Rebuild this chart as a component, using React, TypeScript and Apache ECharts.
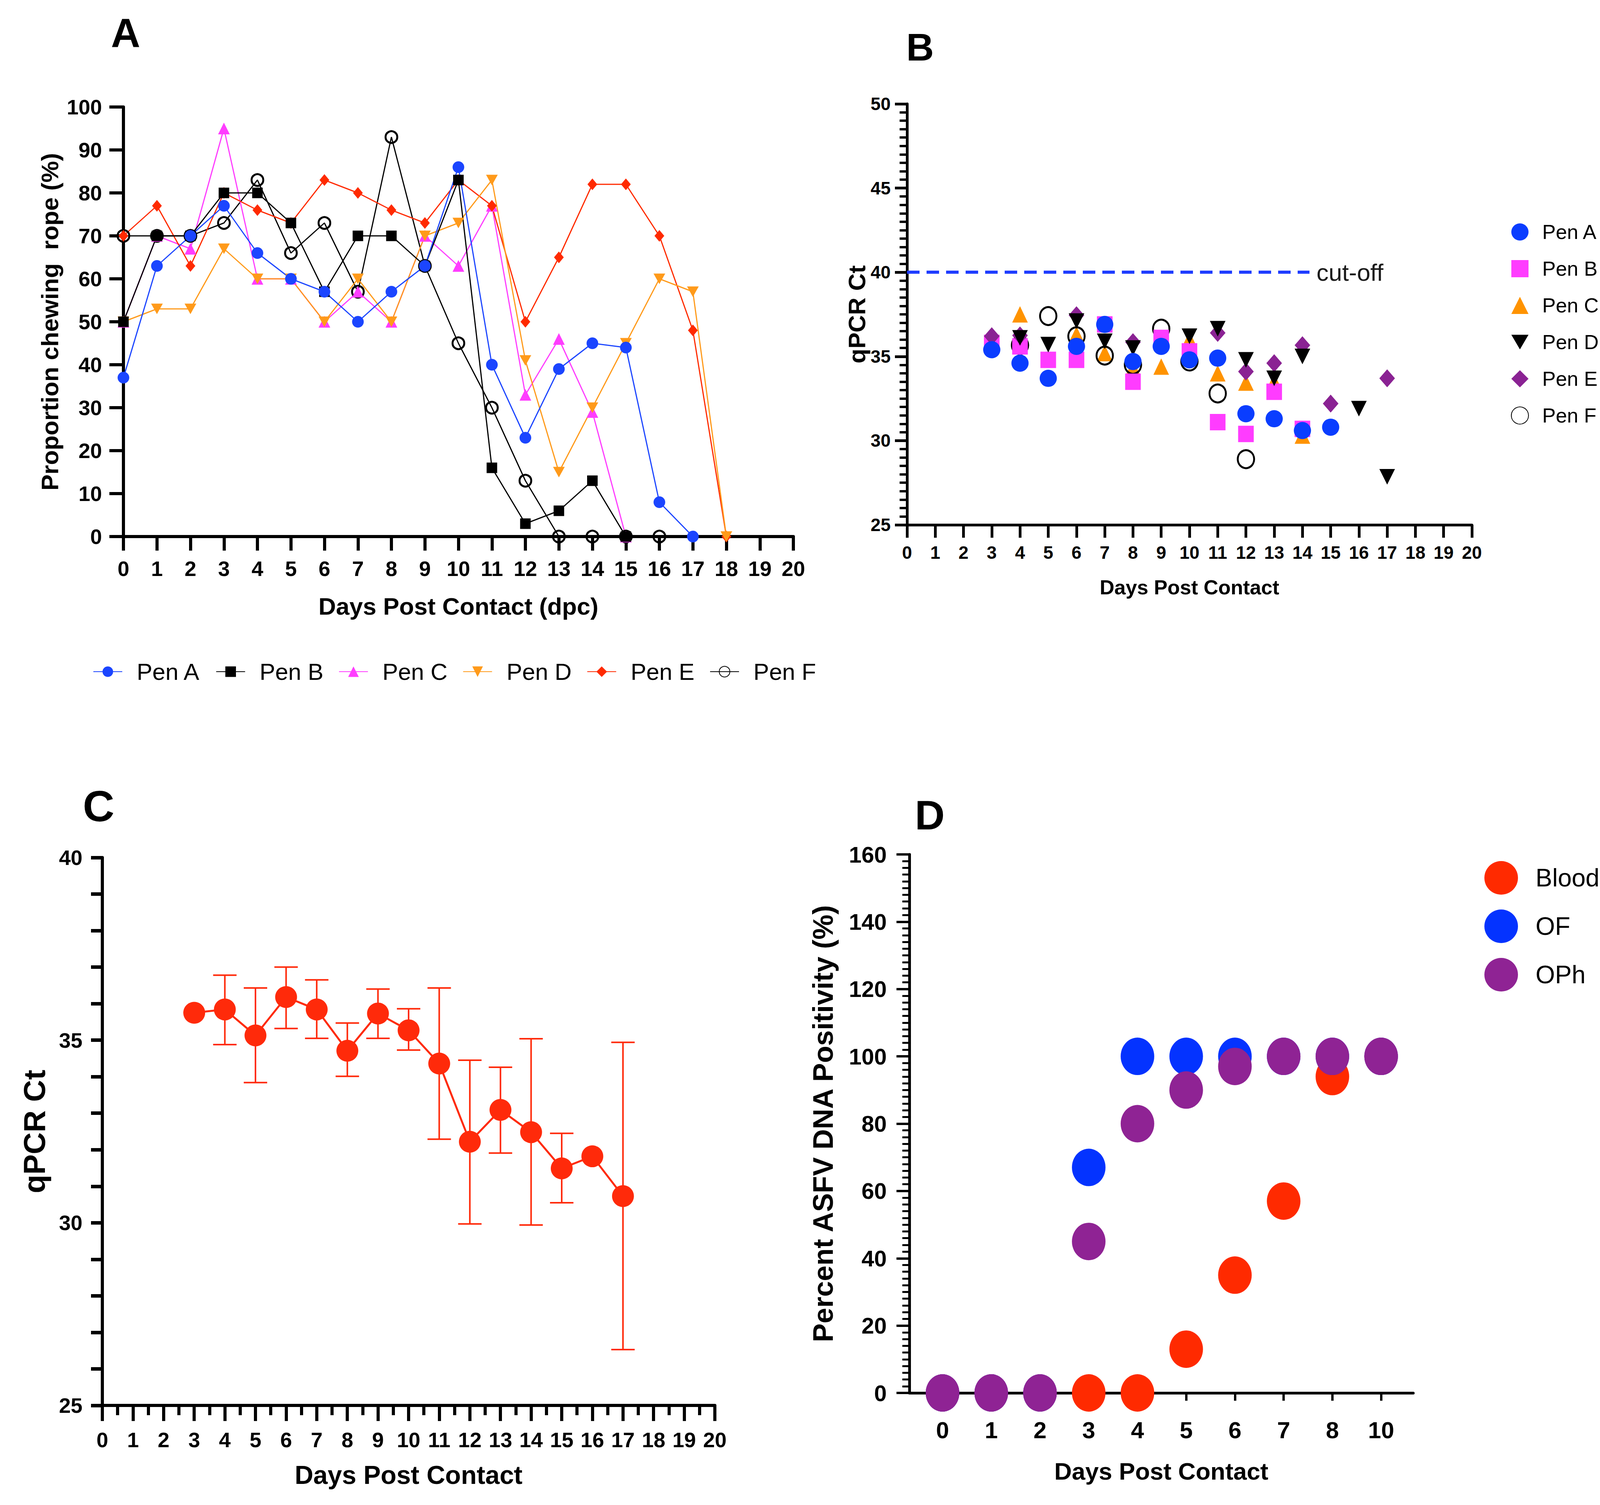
import React, { useEffect, useRef } from 'react';
import * as echarts from 'echarts';

const FONT = "'Liberation Sans', Arial, sans-serif";

// ---------- Panel A: proportion chewing rope ----------
const aDays = [0, 1, 2, 3, 4, 5, 6, 7, 8, 9, 10, 11, 12, 13, 14, 15, 16, 17, 18];
const aPenA = [37, 63, 70, 77, 66, 60, 57, 50, 57, 63, 86, 40, 23, 39, 45, 44, 8, 0, null];
const aPenB = [50, 70, 70, 80, 80, 73, 57, 70, 70, 63, 83, 16, 3, 6, 13, 0, null, null, null];
const aPenC = [50, 70, 67, 95, 60, 60, 50, 57, 50, 70, 63, 77, 33, 46, 29, 0, null, null, null];
const aPenD = [50, 53, 53, 67, 60, 60, 50, 60, 50, 70, 73, 83, 41, 15, 30, 45, 60, 57, 0];
const aPenE = [70, 77, 63, 80, 76, 73, 83, 80, 76, 73, 83, 77, 50, 65, 82, 82, 70, 48, 0];
const aPenF = [70, 70, 70, 73, 83, 66, 73, 57, 93, 63, 45, 30, 13, 0, 0, 0, 0, null, null];

// ---------- Panel B: qPCR Ct per pen ----------
const bDays = [3, 4, 5, 6, 7, 8, 9, 10, 11, 12, 13, 14, 15, 16, 17];
const bPenA = [35.4, 34.6, 33.7, 35.6, 36.9, 34.7, 35.6, 34.8, 34.9, 31.6, 31.3, 30.6, 30.8, null, null];
const bPenB = [35.8, 35.6, 34.8, 34.8, 36.9, 33.5, 36.1, 35.3, 31.1, 30.4, 32.9, 30.7, null, null, null];
const bPenC = [36.1, 37.5, null, 36.3, 35.2, 34.3, 34.4, 36.0, 34.0, 33.45, 33.5, 30.3, null, null, null];
const bPenD = [null, 36.1, 35.7, 37.1, 35.9, 35.5, null, 36.2, 36.65, 34.8, 33.7, 35.0, null, 31.9, 27.85];
const bPenE = [36.2, 36.25, null, 37.45, null, 35.85, null, null, 36.4, 34.1, 34.6, 35.67, 32.2, null, 33.7];
const bPenF = [null, 35.67, 37.4, 36.2, 35.05, 34.5, 36.65, 34.7, 32.8, 28.9, null, null, null, null, null];
const cutoff = 40;
const cutoffEnd = 14.25;

// ---------- Panel C: mean qPCR Ct with error bars ----------
const cDays = [3, 4, 5, 6, 7, 8, 9, 10, 11, 12, 13, 14, 15, 16, 17];
const cMean = [35.75, 35.84, 35.13, 36.18, 35.84, 34.71, 35.73, 35.27, 34.36, 32.22, 33.09, 32.48, 31.49, 31.82, 30.73];
const cLow = [null, 34.88, 33.84, 35.32, 35.05, 34.01, 35.05, 34.73, 32.29, 29.97, 31.91, 29.94, 30.55, null, 26.53];
const cHigh = [null, 36.78, 36.43, 37.0, 36.65, 35.47, 36.4, 35.86, 36.43, 34.45, 34.26, 35.04, 32.45, null, 34.94];

// ---------- Panel D: percent positivity ----------
const dLabels = ['0', '1', '2', '3', '4', '5', '6', '7', '8', '10'];
const dBlood = [0, 0, 0, 0, 0, 13, 35, 57, 94, 100];
const dOF = [0, 0, 0, 67, 100, 100, 100, 100, 100, 100];
const dOPh = [0, 0, 0, 45, 80, 90, 97, 100, 100, 100];

const INV_TRI = 'path://M0,0L20,0L10,17Z';

const pairs = (xs: number[], ys: (number | null)[]) =>
  xs.map((x, i) => [x, ys[i]]).filter((p) => p[1] !== null && p[1] !== undefined);

const lbl = (size: number, margin: number) => ({
  show: true,
  margin,
  fontSize: size,
  fontWeight: 'bold' as const,
  color: '#000',
  fontFamily: FONT,
});
const nameStyle = (size: number) => ({
  fontSize: size,
  fontWeight: 'bold' as const,
  color: '#000',
  fontFamily: FONT,
  verticalAlign: 'middle' as const,
});
const axLine = (w: number) => ({ show: true, onZero: false, lineStyle: { color: '#000', width: w } });
const tick = (len: number, w: number) => ({ show: true, length: len, lineStyle: { color: '#000', width: w } });

function aLine(name: string, vals: (number | null)[], color: string, symbol: string, size: any, open = false) {
  return {
    name,
    type: 'line',
    xAxisIndex: 0,
    yAxisIndex: 0,
    data: pairs(aDays, vals),
    symbol,
    symbolSize: size,
    clip: false,
    lineStyle: { color, width: 3 },
    itemStyle: open
      ? { color: 'rgba(0,0,0,0)', borderColor: color, borderWidth: 5 }
      : { color },
  };
}

function bScatter(name: string, vals: (number | null)[], color: string, symbol: string, size: any, open = false, extra: any = {}) {
  return {
    name: 'B: ' + name,
    type: 'scatter',
    xAxisIndex: 1,
    yAxisIndex: 1,
    data: pairs(bDays, vals),
    symbol,
    symbolSize: size,
    clip: false,
    itemStyle: open
      ? { color: 'rgba(0,0,0,0)', borderColor: color, borderWidth: 5, opacity: 1 }
      : { color, opacity: 1 },
    ...extra,
  };
}

const cErr = cDays
  .map((d, i) => [d, cLow[i], cHigh[i]])
  .filter((p) => p[1] !== null);

const dIdx = dLabels.map((_, i) => i);
const dPairs = (vals: number[]) => vals.map((v, i) => [i, v]);

const RED_C = '#ff2a0a';

const option: any = {
  animation: false,
  backgroundColor: '#fff',
  textStyle: { fontFamily: FONT },
  title: [
    { text: 'A', left: 284, top: 32, padding: 0, textStyle: { fontSize: 104, fontWeight: 'bold', color: '#000', fontFamily: FONT } },
    { text: 'B', left: 2320, top: 72, padding: 0, textStyle: { fontSize: 98, fontWeight: 'bold', color: '#000', fontFamily: FONT } },
    { text: 'C', left: 212, top: 2008, padding: 0, textStyle: { fontSize: 112, fontWeight: 'bold', color: '#000', fontFamily: FONT } },
    { text: 'D', left: 2342, top: 2034, padding: 0, textStyle: { fontSize: 106, fontWeight: 'bold', color: '#000', fontFamily: FONT } },
  ],
  legend: [
    {
      data: ['Pen A', 'Pen B', 'Pen C', 'Pen D', 'Pen E', 'Pen F'],
      orient: 'horizontal',
      left: 238,
      top: 1690,
      padding: 0,
      itemWidth: 74,
      itemHeight: 34,
      itemGap: 39,
      textStyle: { fontSize: 60, color: '#000', fontFamily: FONT, padding: [0, 0, 0, 32], width: 152, overflow: 'none' },
    },
    {
      data: ['B: Pen A', 'B: Pen B', 'B: Pen C', 'B: Pen D', 'B: Pen E', 'B: Pen F'],
      orient: 'vertical',
      left: 3868,
      top: 568,
      padding: 0,
      itemWidth: 44,
      itemHeight: 44,
      itemGap: 42,
      formatter: (n: string) => n.replace('B: ', ''),
      textStyle: { fontSize: 52, color: '#000', fontFamily: FONT, padding: [0, 0, 0, 30] },
    },
    {
      data: ['Blood', 'OF', 'OPh'],
      orient: 'vertical',
      left: 3800,
      top: 2205,
      padding: 0,
      itemWidth: 86,
      itemHeight: 96,
      itemGap: 38,
      textStyle: { fontSize: 64, color: '#000', fontFamily: FONT, padding: [0, 0, 0, 40] },
    },
  ],
  grid: [
    { left: 316, top: 274, width: 1715, height: 1100 },
    { left: 2322, top: 266, width: 1446, height: 1078 },
    { left: 262, top: 2196, width: 1568, height: 1403 },
    { left: 2328, top: 2188, width: 1290, height: 1379 },
  ],
  xAxis: [
    {
      gridIndex: 0, type: 'value', min: 0, max: 20, interval: 1,
      axisLine: axLine(8), axisTick: tick(36, 8), axisLabel: lbl(54, 55), splitLine: { show: false },
      name: 'Days Post Contact (dpc)', nameLocation: 'middle', nameGap: 178, nameTextStyle: nameStyle(62),
    },
    {
      gridIndex: 1, type: 'value', min: 0, max: 20, interval: 1,
      axisLine: axLine(7), axisTick: tick(33, 7), axisLabel: lbl(46, 48), splitLine: { show: false },
      name: 'Days Post Contact', nameLocation: 'middle', nameGap: 160, nameTextStyle: nameStyle(52),
    },
    {
      gridIndex: 2, type: 'value', min: 0, max: 20, interval: 1,
      axisLine: axLine(8), axisTick: tick(40, 8),
      minorTick: { show: true, splitNumber: 2, length: 25, lineStyle: { color: '#000', width: 8 } },
      axisLabel: lbl(54, 61), splitLine: { show: false }, minorSplitLine: { show: false },
      name: 'Days Post Contact', nameLocation: 'middle', nameGap: 178, nameTextStyle: nameStyle(66),
    },
    {
      gridIndex: 3, type: 'value', min: -0.68, max: 9.66,
      axisLine: axLine(7),
      axisTick: { show: true, customValues: dIdx, length: 20, lineStyle: { color: '#000', width: 6 } },
      axisLabel: { ...lbl(60, 65), customValues: dIdx, formatter: (v: number) => dLabels[Math.round(v)] ?? '' },
      splitLine: { show: false },
      name: 'Days Post Contact', nameLocation: 'middle', nameGap: 200, nameTextStyle: nameStyle(62),
    },
  ],
  yAxis: [
    {
      gridIndex: 0, type: 'value', min: 0, max: 100, interval: 10,
      axisLine: axLine(8), axisTick: tick(36, 8), axisLabel: lbl(54, 55), splitLine: { show: false },
      name: 'Proportion chewing  rope (%)', nameLocation: 'middle', nameGap: 189, nameTextStyle: nameStyle(62),
    },
    {
      gridIndex: 1, type: 'value', min: 25, max: 50, interval: 5,
      axisLine: axLine(7), axisTick: tick(31, 7),
      minorTick: { show: true, splitNumber: 10, length: 19, lineStyle: { color: '#000', width: 6 } },
      axisLabel: lbl(46, 42), splitLine: { show: false }, minorSplitLine: { show: false },
      name: 'qPCR Ct', nameLocation: 'middle', nameGap: 122, nameTextStyle: nameStyle(62),
    },
    {
      gridIndex: 2, type: 'value', min: 25, max: 40, interval: 5,
      axisLine: axLine(8), axisTick: tick(29, 9),
      minorTick: { show: true, splitNumber: 5, length: 29, lineStyle: { color: '#000', width: 9 } },
      axisLabel: lbl(54, 51), splitLine: { show: false }, minorSplitLine: { show: false },
      name: 'qPCR Ct', nameLocation: 'middle', nameGap: 174, nameTextStyle: nameStyle(78),
    },
    {
      gridIndex: 3, type: 'value', min: 0, max: 160, interval: 20,
      axisLine: axLine(7), axisTick: tick(33, 6),
      minorTick: { show: true, splitNumber: 10, length: 18, lineStyle: { color: '#000', width: 5 } },
      axisLabel: lbl(58, 58), splitLine: { show: false }, minorSplitLine: { show: false },
      name: 'Percent ASFV DNA Positivity (%)', nameLocation: 'middle', nameGap: 221, nameTextStyle: nameStyle(72),
    },
  ],
  series: [
    // Panel A (drawing order chosen to match overlaps)
    aLine('Pen F', aPenF, '#000000', 'circle', 30, true),
    aLine('Pen C', aPenC, '#ff3dff', 'triangle', 30),
    aLine('Pen E', aPenE, '#ff2a00', 'diamond', [25, 30]),
    aLine('Pen D', aPenD, '#ff9a1a', INV_TRI, [30, 27]),
    aLine('Pen B', aPenB, '#000000', 'rect', 27),
    aLine('Pen A', aPenA, '#1b45ff', 'circle', 30),

    // Panel B
    bScatter('Pen C', bPenC, '#ff9300', 'triangle', [40, 42]),
    bScatter('Pen F', bPenF, '#000000', 'circle', [42, 46], true),
    bScatter('Pen B', bPenB, '#ff3cff', 'rect', [40, 42]),
    bScatter('Pen E', bPenE, '#8a2293', 'diamond', [40, 46]),
    bScatter('Pen D', bPenD, '#000000', INV_TRI, [40, 40]),
    bScatter('Pen A', bPenA, '#0a3dff', 'circle', 44, false, {
      markLine: {
        silent: true,
        symbol: ['none', 'none'],
        lineStyle: { type: [32, 18], color: '#1f3dff', width: 8 },
        label: {
          show: true, position: 'end', formatter: 'cut-off', distance: 18,
          fontSize: 62, fontFamily: FONT, color: '#1a1a1a',
        },
        data: [[{ coord: [0, cutoff] }, { coord: [cutoffEnd, cutoff] }]],
      },
    }),

    // Panel C
    {
      name: 'C error',
      type: 'custom',
      xAxisIndex: 2,
      yAxisIndex: 2,
      data: cErr,
      encode: { x: 0, y: [1, 2] },
      z: 1,
      clip: false,
      renderItem: (params: any, api: any) => {
        const x = api.value(0);
        const lo = api.coord([x, api.value(1)]);
        const hi = api.coord([x, api.value(2)]);
        const half = 30;
        const st = { stroke: RED_C, lineWidth: 4 };
        return {
          type: 'group',
          children: [
            { type: 'line', shape: { x1: lo[0], y1: lo[1], x2: hi[0], y2: hi[1] }, style: st },
            { type: 'line', shape: { x1: lo[0] - half, y1: lo[1], x2: lo[0] + half, y2: lo[1] }, style: st },
            { type: 'line', shape: { x1: hi[0] - half, y1: hi[1], x2: hi[0] + half, y2: hi[1] }, style: st },
          ],
        };
      },
    },
    {
      name: 'C mean',
      type: 'line',
      xAxisIndex: 2,
      yAxisIndex: 2,
      data: pairs(cDays, cMean),
      symbol: 'circle',
      symbolSize: 56,
      z: 3,
      clip: false,
      lineStyle: { color: RED_C, width: 5 },
      itemStyle: { color: RED_C },
    },

    // Panel D
    {
      name: 'Blood', type: 'scatter', xAxisIndex: 3, yAxisIndex: 3, data: dPairs(dBlood),
      symbol: 'circle', symbolSize: [86, 96], clip: false, itemStyle: { color: '#ff2a00', opacity: 1 },
    },
    {
      name: 'OF', type: 'scatter', xAxisIndex: 3, yAxisIndex: 3, data: dPairs(dOF),
      symbol: 'circle', symbolSize: [86, 96], clip: false, itemStyle: { color: '#0433ff', opacity: 1 },
    },
    {
      name: 'OPh', type: 'scatter', xAxisIndex: 3, yAxisIndex: 3, data: dPairs(dOPh),
      symbol: 'circle', symbolSize: [86, 96], clip: false, itemStyle: { color: '#8f2394', opacity: 1 },
    },
  ],
};

export default function App() {
  const ref = useRef<HTMLDivElement>(null);
  useEffect(() => {
    document.body.style.margin = '0';
    document.body.style.overflow = 'hidden';
    document.documentElement.style.overflow = 'hidden';
    const chart = echarts.init(ref.current as HTMLDivElement, null, { renderer: 'svg' });
    chart.setOption(option);
    return () => chart.dispose();
  }, []);
  return <div ref={ref} style={{ width: 4172, height: 3854 }} />;
}
